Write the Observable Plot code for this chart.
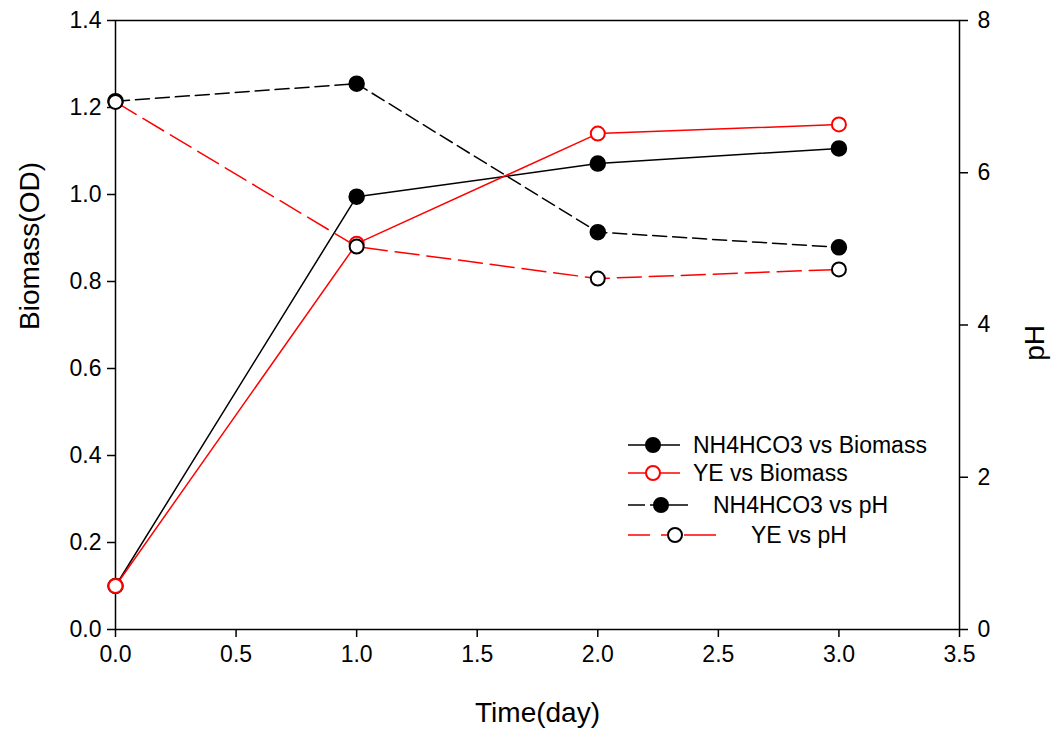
<!DOCTYPE html>
<html><head><meta charset="utf-8">
<script src="https://cdn.jsdelivr.net/npm/d3@7"></script>
<script src="https://cdn.jsdelivr.net/npm/@observablehq/plot@0.6"></script>
<style>
body{margin:0;background:#fff;font-family:"Liberation Sans",Arial,sans-serif;}
#wrap{position:relative;width:1051px;height:734px;}
</style></head><body><div id="wrap"></div>
<script>
const days = [0, 1, 2, 3];
const nh4Biomass = [0.10, 0.995, 1.071, 1.106];
const yeBiomass = [0.10, 0.887, 1.140, 1.161];
const nh4PH = [6.94, 7.17, 5.22, 5.02];
const yePH = [6.93, 5.03, 4.61, 4.73];
const xTicks = [0, 0.5, 1, 1.5, 2, 2.5, 3, 3.5];
const leftTicks = [0, 0.2, 0.4, 0.6, 0.8, 1.0, 1.2, 1.4];
const rightTicks = [0, 2, 4, 6, 8];
const odMax = 1.4, pHMax = 8;
const k = odMax / pHMax;
const seriesNames = ["NH4HCO3 vs Biomass", "YE vs Biomass", "NH4HCO3 vs pH", "YE vs pH"];

const rows = (vals, name, scale = 1) => days.map((d, i) => ({day: d, v: vals[i] * scale, series: name}));
const nh4B = rows(nh4Biomass, seriesNames[0]);
const yeB = rows(yeBiomass, seriesNames[1]);
const nh4P = rows(nh4PH, seriesNames[2], k);
const yeP = rows(yePH, seriesNames[3], k);

const font = "Liberation Sans, Arial, sans-serif";
const plot = Plot.plot({
  width: 1051, height: 734,
  marginLeft: 115, marginRight: 92, marginTop: 20, marginBottom: 105,
  style: {fontFamily: font, fontSize: "23px", color: "#000", background: "#fff"},
  x: {domain: [0, 3.5]},
  y: {domain: [0, odMax]},
  marks: [
    Plot.axisX({ticks: xTicks, tickFormat: d3.format(".1f"), tickSize: 8, tickPadding: 8, strokeWidth: 1.5, label: null}),
    Plot.axisY({ticks: leftTicks, tickFormat: d3.format(".1f"), tickSize: 8, tickPadding: 6, strokeWidth: 1.5, label: null}),
    Plot.axisY({anchor: "right", ticks: rightTicks.map(v => v * k), tickFormat: v => String(Math.round(v / k)), tickSize: 8, tickPadding: 10, strokeWidth: 1.5, label: null}),
    Plot.frame({stroke: "#000", strokeWidth: 1.5}),
    Plot.line(nh4B, {x: "day", y: "v", stroke: "#000", strokeWidth: 1.5}),
    Plot.line(yeB, {x: "day", y: "v", stroke: "#ff0000", strokeWidth: 1.5}),
    Plot.line(nh4P, {x: "day", y: "v", stroke: "#000", strokeWidth: 1.5, strokeDasharray: "14,6"}),
    Plot.line(yeP, {x: "day", y: "v", stroke: "#ff0000", strokeWidth: 1.5, strokeDasharray: "24,8"}),
    Plot.dot(nh4B, {x: "day", y: "v", r: 7.5, fill: "#000", stroke: "#000", strokeWidth: 1.5}),
    Plot.dot(yeB, {x: "day", y: "v", r: 7, fill: "#fff", stroke: "#ff0000", strokeWidth: 2}),
    Plot.dot(nh4P, {x: "day", y: "v", r: 7.5, fill: "#000", stroke: "#000", strokeWidth: 1.5}),
    Plot.dot(yeP, {x: "day", y: "v", r: 7, fill: "#fff", stroke: "#000", strokeWidth: 2}),
    Plot.text(["Time(day)"], {frameAnchor: "bottom", dy: 92, fontSize: 28, fill: "#000"}),
    Plot.text(["Biomass(OD)"], {frameAnchor: "left", dx: -85, dy: 5, rotate: -90, fontSize: 28, fill: "#000"}),
    Plot.text(["pH"], {frameAnchor: "right", dx: 76, rotate: -90, fontSize: 28, fill: "#000"})
  ]
});
document.getElementById("wrap").appendChild(plot);

// Legend
const svg = d3.select(plot);
const lg = svg.append("g").attr("font-family", font).attr("font-size", 23).attr("text-anchor", "start");
const legendItems = [
  {name: seriesNames[0], y: 445, stroke: "#000", fill: "#000", mstroke: "#000", segs: [[628, 680]], cx: 653, tx: 693},
  {name: seriesNames[1], y: 473, stroke: "#ff0000", fill: "#fff", mstroke: "#ff0000", segs: [[628, 680]], cx: 653, tx: 693},
  {name: seriesNames[2], y: 505, stroke: "#000", fill: "#000", mstroke: "#000", segs: [[628, 645], [650, 655], [668, 688]], cx: 661, tx: 713},
  {name: seriesNames[3], y: 535, stroke: "#ff0000", fill: "#fff", mstroke: "#000", segs: [[628, 650], [661, 668], [684, 716]], cx: 675, tx: 751}
];
for (const it of legendItems) {
  for (const [a, b] of it.segs) {
    lg.append("line").attr("x1", a).attr("x2", b).attr("y1", it.y).attr("y2", it.y)
      .attr("stroke", it.stroke).attr("stroke-width", 1.5);
  }
  lg.append("circle").attr("cx", it.cx).attr("cy", it.y).attr("r", 7)
    .attr("fill", it.fill).attr("stroke", it.mstroke).attr("stroke-width", 2);
  lg.append("text").attr("x", it.tx).attr("y", it.y).attr("dy", "0.35em").attr("text-anchor", "start").attr("fill", "#000").text(it.name);
}
</script></body></html>
